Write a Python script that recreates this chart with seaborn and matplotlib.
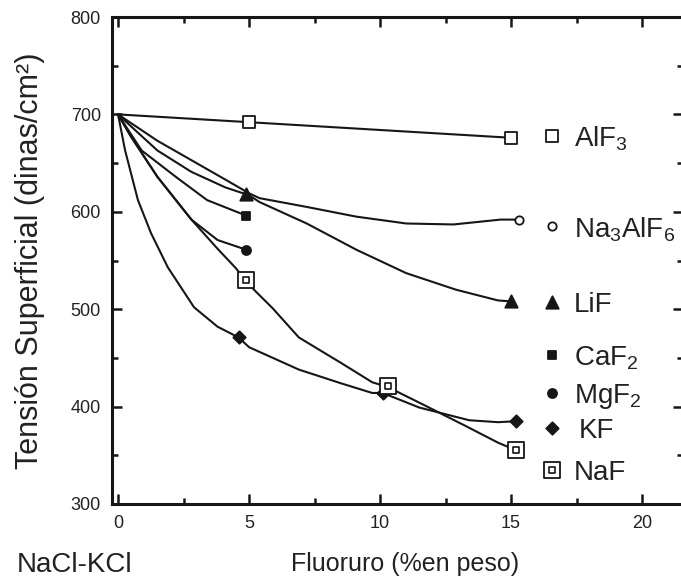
import matplotlib
matplotlib.use("Agg")
import matplotlib.pyplot as plt
import seaborn as sns
from matplotlib.ticker import MultipleLocator

# curves: x = fluoruro (% en peso), y = tension (dinas/cm2)
alf3_x = [0, 5, 10, 15]
alf3_y = [700, 692, 684, 676]

na3alf6_x = [0, 1.5, 2.8, 4.1, 5, 5.4, 7.2, 9.1, 11, 12.8, 14.6, 15.3]
na3alf6_y = [700, 673, 653, 633, 619, 614, 605, 595, 588, 587, 592, 592]

lif_x = [0, 1.5, 2.8, 4.1, 5, 5.4, 7.2, 9.1, 11, 12.9, 14.5, 15]
lif_y = [700, 663, 641, 625, 617, 610, 588, 561, 537, 520, 509, 508]

caf2_x = [0, 0.9, 2.2, 3.4, 4.9]
caf2_y = [700, 663, 636, 612, 596]

mgf2_x = [0, 0.5, 1.5, 2.8, 3.8, 4.9]
mgf2_y = [700, 677, 636, 592, 571, 561]

kf_x = [0, 0.27, 0.76, 1.26, 1.9, 2.9, 3.8, 4.6, 5.0, 6.9, 8.5, 9.7, 10.1, 11.5, 13.4, 14.5, 15.2]
kf_y = [700, 663, 612, 578, 543, 502, 482, 471, 461, 438, 424, 414, 414, 399, 386, 384, 385]

naf_x = [0, 0.5, 1.5, 2.8, 3.8, 4.5, 4.9, 5.3, 5.9, 6.9, 8.5, 9.7, 10.3, 11.5, 13.2, 14.5, 15.2]
naf_y = [700, 677, 636, 592, 562, 542, 528, 517, 501, 471, 445, 425, 420, 404, 381, 363, 355]

# measured points (markers)
alf3_px, alf3_py = [5, 15], [692, 676]
na3alf6_px, na3alf6_py = [15.3], [592]
lif_px, lif_py = [4.9, 15.0], [618, 508]
caf2_px, caf2_py = [4.9], [596]
mgf2_px, mgf2_py = [4.9], [561]
kf_px, kf_py = [4.6, 10.1, 15.2], [471, 414, 385]
naf_px, naf_py = [4.9, 10.3, 15.2], [530, 421, 355]

labels = ["AlF$_3$", "Na$_3$AlF$_6$", "LiF", "CaF$_2$", "MgF$_2$", "KF", "NaF"]

INK = "#161616"
TXT = "#222222"

sns.set_theme(style="ticks")
plt.rcParams["font.family"] = ["Liberation Sans", "DejaVu Sans"]
plt.rcParams["mathtext.fontset"] = "custom"
plt.rcParams["mathtext.rm"] = "Liberation Sans"
plt.rcParams["mathtext.it"] = "Liberation Sans:italic"
plt.rcParams["mathtext.bf"] = "Liberation Sans:bold"
plt.rcParams["mathtext.default"] = "regular"

fig = plt.figure(figsize=(6.81, 5.82), dpi=100)
ax = fig.add_axes([112 / 681, 78 / 582, 571 / 681, 487 / 582])

curves = [(alf3_x, alf3_y), (na3alf6_x, na3alf6_y), (lif_x, lif_y), (caf2_x, caf2_y),
          (mgf2_x, mgf2_y), (kf_x, kf_y), (naf_x, naf_y)]
for cx, cy in curves:
    sns.lineplot(x=cx, y=cy, ax=ax, sort=False, estimator=None, color=INK, lw=1.5)

# marker styles: (marker, size, face)
styles = [("s", 70, "white"), ("o", 36, "white"), ("^", 80, INK), ("s", 34, INK),
          ("o", 42, INK), ("D", 40, INK), ("s", 120, "white")]
points = [(alf3_px, alf3_py), (na3alf6_px, na3alf6_py), (lif_px, lif_py), (caf2_px, caf2_py),
          (mgf2_px, mgf2_py), (kf_px, kf_py), (naf_px, naf_py)]

for (px, py), (m, s, fc) in zip(points, styles):
    sns.scatterplot(x=px, y=py, ax=ax, marker=m, s=s, color=fc, edgecolor=INK,
                    linewidth=1.3, zorder=5)
# inner square of the NaF symbol
sns.scatterplot(x=naf_px, y=naf_py, ax=ax, marker="s", s=20, color="white",
                edgecolor=INK, linewidth=1.2, zorder=6)

# key drawn next to the curve ends
key_x, text_x = 16.55, 17.4
key_y = [678, 585, 507, 453, 414, 378, 335]
for lab, ky, (m, s, fc) in zip(labels, key_y, styles):
    ax.scatter([key_x], [ky], marker=m, s=s, color=fc, edgecolor=INK, linewidth=1.3,
               zorder=5, clip_on=False)
    ax.text(text_x + (0.2 if lab == "KF" else 0), ky, lab, fontsize=20, color=TXT,
            va="center_baseline", ha="left")
ax.scatter([key_x], [key_y[-1]], marker="s", s=20, color="white", edgecolor=INK,
           linewidth=1.2, zorder=6)

ax.set_xlim(-0.23, 21.56)
ax.set_ylim(300, 800)
ax.xaxis.set_major_locator(MultipleLocator(5))
ax.xaxis.set_minor_locator(MultipleLocator(2.5))
ax.yaxis.set_major_locator(MultipleLocator(100))
ax.yaxis.set_minor_locator(MultipleLocator(50))
ax.tick_params(which="both", direction="in", top=True, right=True, colors=INK,
               labelcolor=TXT, labelsize=13, width=1.8)
ax.tick_params(which="major", length=7, pad=8)
ax.tick_params(which="minor", length=4.5)
for sp in ax.spines.values():
    sp.set_linewidth(2.2)
    sp.set_color(INK)

ax.set_ylabel("Tensión Superficial (dinas/cm²)", fontsize=22, color=TXT)
ax.yaxis.set_label_coords(-0.118, 0.5)
ax.set_xlabel("Fluoruro (%en peso)", fontsize=18, color=TXT)
ax.xaxis.set_label_coords(0.513, -0.098)
fig.text(75 / 681, 1 - 565 / 582, "NaCl-KCl", fontsize=20, color=TXT,
         ha="center", va="center")

fig.savefig("out.png", dpi=100)
